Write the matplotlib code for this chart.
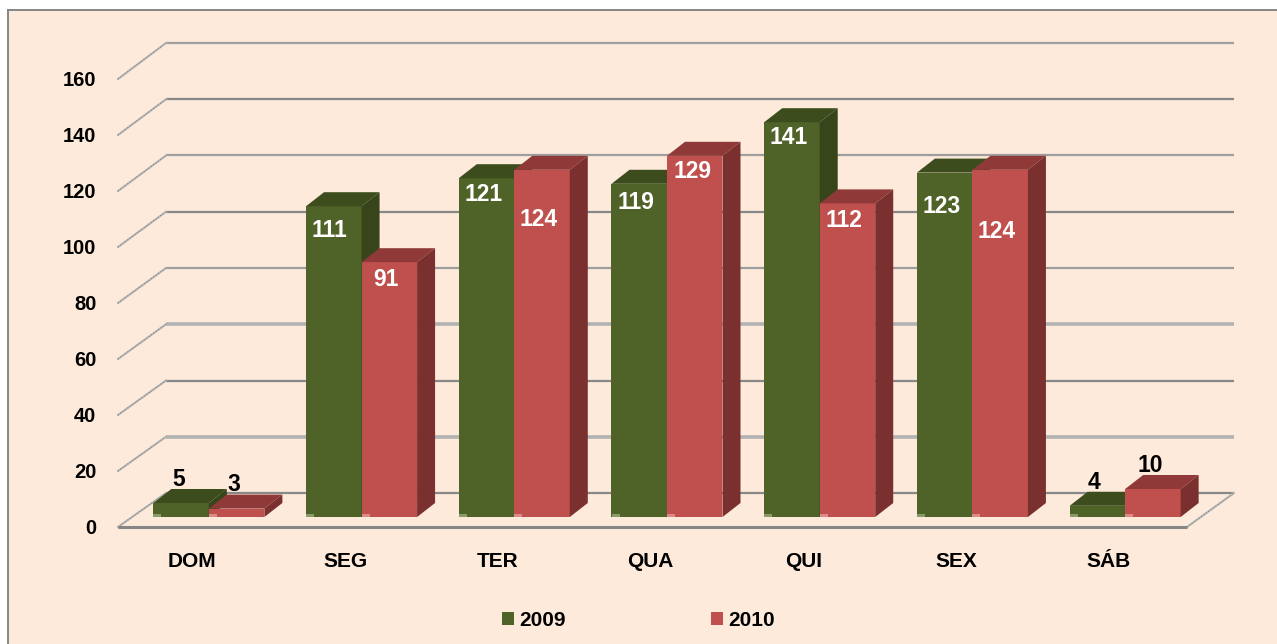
"""Weekday bars 2009 vs 2010, drawn as a fake 3D column chart."""
import matplotlib

matplotlib.use("Agg")

import matplotlib.pyplot as plt
from matplotlib.lines import Line2D
from matplotlib.patches import Patch, Polygon, Rectangle
from matplotlib.transforms import Affine2D

plt.rcParams["font.family"] = ["Liberation Sans", "DejaVu Sans"]
plt.rcParams["font.weight"] = "bold"

days = ["DOM", "SEG", "TER", "QUA", "QUI", "SEX", "SÁB"]
series_names = ["2009", "2010"]
values_2009 = [5, 111, 121, 119, 141, 123, 4]
values_2010 = [3, 91, 124, 129, 112, 124, 10]
y_ticks = [0, 20, 40, 60, 80, 100, 120, 140, 160]

# hand placed label offsets in px from the bar top centre, as in the original
label_offsets_2009 = [(-2, 23), (-4, -24), (-3, -16), (-3, -19), (-3, -15), (-3, -34), (-3, 23)]
label_offsets_2010 = [(-3, 24), (-3, -17), (-3, -50), (-2, -16), (-4, -17), (-4, -62), (-3, 23)]

W, H = 1277, 644
LEFT, RIGHT, FLOOR, TOP = 118, 1187, 527, 79

PX_X = (RIGHT - LEFT) / len(days)
PX_Y = (FLOOR - TOP) / 160

COLORS = {
    "2009": {"front": "#4F6228", "top": "#3D4C1D", "side": "#38451B", "foot": "#8A9A6A"},
    "2010": {"front": "#C0504D", "top": "#8F3A38", "side": "#7A302E", "foot": "#DC8A88"},
}

# the gridlines are not uniform in the original: (colour, width) per tick
DARK = ("#888888", 1.6)
MID = ("#9E9E9E", 1.6)
PALE = ("#B2B2B2", 2.6)
grid_styles = [DARK, PALE, DARK, PALE, MID, DARK, MID, DARK, MID]


def dx(px):
    return px / PX_X


def dy(px):
    return px / PX_Y


def draw_bar(ax, center, value, width, colors):
    # front face sits part way into the floor
    x0 = center - width / 2
    x1 = center + width / 2
    y0 = dy(10)
    y1 = y0 + value
    ox, oy = dx(18), dy(14)
    ax.bar(center, value, width, bottom=y0, color=colors["front"], zorder=4, clip_on=False)
    ax.add_patch(Polygon([(x0, y1), (x1, y1), (x1 + ox, y1 + oy), (x0 + ox, y1 + oy)],
                         closed=True, fc=colors["top"], ec="none", zorder=4, clip_on=False))
    ax.add_patch(Polygon([(x1, y0), (x1, y1), (x1 + ox, y1 + oy), (x1 + ox, y0 + oy)],
                         closed=True, fc=colors["side"], ec="none", zorder=4, clip_on=False))
    ax.add_patch(Rectangle((x0, y0), dx(8), dy(3), fc=colors["foot"], ec="none",
                           zorder=4.1, clip_on=False))
    return y1


def slant(ax, xs, ys):
    ax.plot(xs, ys, color="#B4B6B6", lw=1.5, zorder=1.1, clip_on=False)
    ax.plot(xs, ys, color="#7E7E7E", lw=0.7, ls=(0, (1, 2)), zorder=1.2, clip_on=False)


fig = plt.figure(figsize=(W / 100, H / 100), dpi=100, facecolor="white")

# panel background with only left and top border, runs off the right and bottom
fig.add_artist(Rectangle((8 / W, 0), 1 - 8 / W, 1 - 10 / H, transform=fig.transFigure,
                         fc="#FDEADA", ec="none", zorder=-5))
fig.add_artist(Line2D([8 / W, 8 / W], [0, 1 - 10 / H], color="#868686", lw=1.4, zorder=-4))
fig.add_artist(Line2D([8 / W, 1], [1 - 10 / H, 1 - 10 / H], color="#868686", lw=1.4, zorder=-4))

ax = fig.add_axes([LEFT / W, 1 - FLOOR / H, (RIGHT - LEFT) / W, (FLOOR - TOP) / H])
ax.patch.set_alpha(0)
ax.set_xlim(-0.5, len(days) - 0.5)
ax.set_ylim(0, 160)
for spine in ax.spines.values():
    spine.set_visible(False)

ax.set_xticks(range(len(days)))
ax.set_xticklabels(days, fontsize=15, fontweight="bold")
ax.set_yticks(y_ticks)
ax.set_yticklabels([str(t) for t in y_ticks], fontsize=14.5, fontweight="bold")
ax.tick_params(axis="x", length=0, pad=18)
ax.tick_params(axis="y", length=0, pad=15.5)
for lab in ax.get_xticklabels():
    lab.set_transform(lab.get_transform() + Affine2D().translate(-2, 0))

# back wall grid and the slanted side wall lines
back_x0 = -0.5 + dx(48)
back_x1 = len(days) - 0.5 + dx(47)
back_scale = 56.25 / 56
for t, (grid_color, grid_lw) in zip(y_ticks, grid_styles):
    back_y = dy(34) + t * back_scale
    ax.plot([back_x0, back_x1], [back_y, back_y], color=grid_color, lw=grid_lw,
            solid_capstyle="butt", zorder=1, clip_on=False)
    slant(ax, [-0.5, back_x0], [t, back_y])

# floor edges
slant(ax, [len(days) - 0.5, back_x1], [0, dy(34)])
ax.plot([-0.5, len(days) - 0.5], [0, 0], color="#868686", lw=2.2, solid_capstyle="butt",
        zorder=2, clip_on=False)

bar_w = dx(55.5)
shift = dx(14.5)
for i in range(len(days)):
    c = i + shift
    c_a = c - bar_w / 2
    c_b = c + bar_w / 2
    top_a = draw_bar(ax, c_a, values_2009[i], bar_w, COLORS["2009"])
    top_b = draw_bar(ax, c_b, values_2010[i], bar_w, COLORS["2010"])
    for xc, top, val, off in [(c_a, top_a, values_2009[i], label_offsets_2009[i]),
                              (c_b, top_b, values_2010[i], label_offsets_2010[i])]:
        ax.annotate(str(val), (xc, top), xytext=off, textcoords="offset pixels",
                    ha="center", va="center", fontsize=16.5, fontweight="bold",
                    color="white" if off[1] < 0 else "black", zorder=6,
                    annotation_clip=False)

handles = [Patch(fc=COLORS[n]["front"], ec="none", label=n) for n in series_names]
fig.legend(handles=handles, ncol=2, loc="center", bbox_to_anchor=(638.5 / W, 1 - 620 / H),
           frameon=False, prop={"size": 15, "weight": "bold"}, handlelength=0.58,
           handleheight=0.58, handletextpad=0.24, columnspacing=7.0)

fig.savefig("out.png", dpi=100, facecolor=fig.get_facecolor())
